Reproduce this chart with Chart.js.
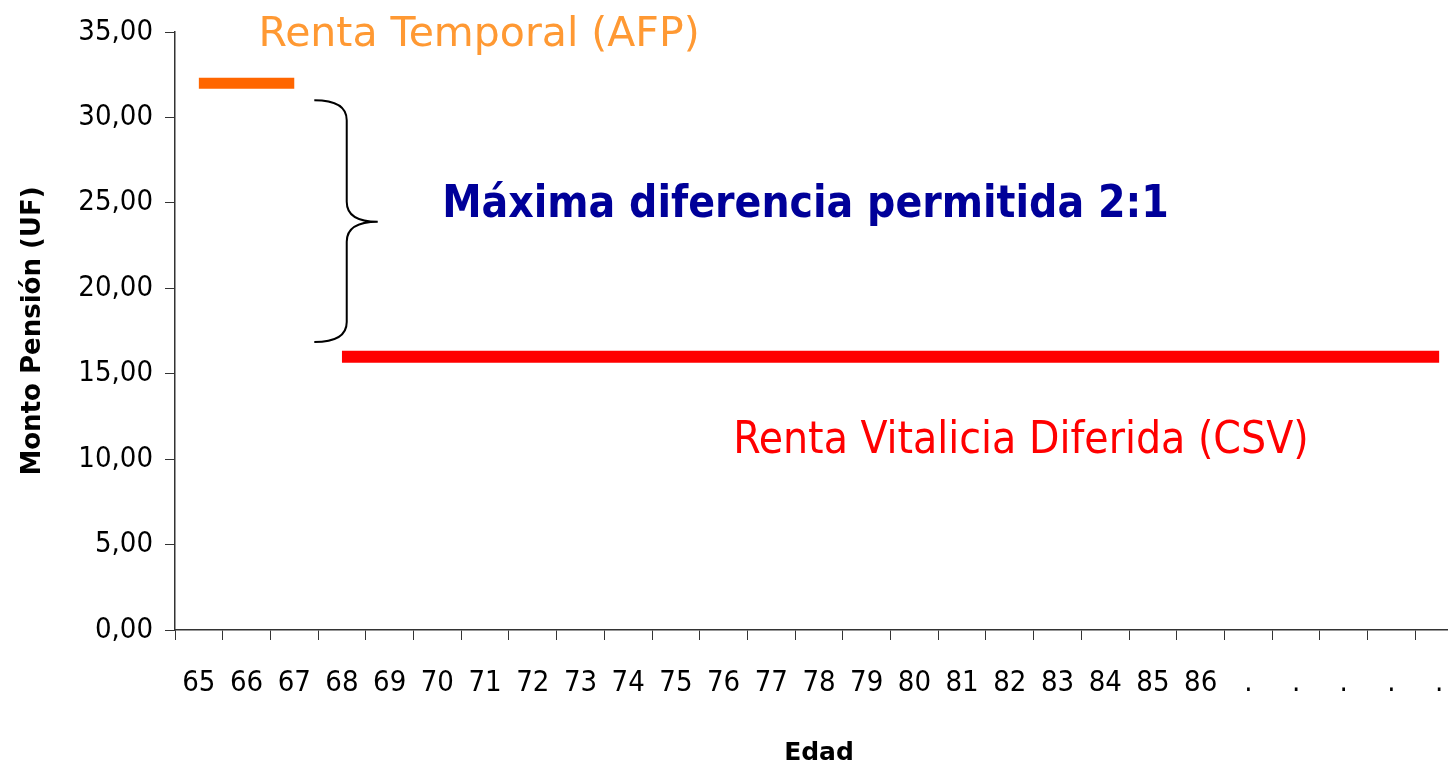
<!DOCTYPE html>
<html>
<head>
<meta charset="utf-8">
<script src="https://cdn.jsdelivr.net/npm/chart.js@4"></script>
<style>
  html, body { margin: 0; padding: 0; background: #fff; overflow: hidden; }
  #wrap { width: 1470px; height: 768px; }
</style>
</head>
<body>
<div id="wrap"><canvas id="myChart"></canvas></div>
<script>
/* DATA */
const edades = ['65', '66', '67', '68', '69', '70', '71', '72', '73', '74', '75', '76', '77', '78', '79', '80', '81', '82', '83', '84', '85', '86', '.', '.', '.', '.', '.'];
const rentaTemporal = [32, 32, 32, null, null, null, null, null, null, null, null, null, null, null, null, null, null, null, null, null, null, null, null, null, null, null, null];
const rentaVitalicia = [null, null, null, 16, 16, 16, 16, 16, 16, 16, 16, 16, 16, 16, 16, 16, 16, 16, 16, 16, 16, 16, 16, 16, 16, 16, 16];
const yTicks = [0, 5, 10, 15, 20, 25, 30, 35];

const FONT = '"DejaVu Sans Condensed", "DejaVu Sans", sans-serif';
const WIDE = '"DejaVu Sans", sans-serif';

/* ANNOTATIONS (texts + brace) */
const notes = {
  id: 'notes',
  afterDraw(chart) {
    const c = chart.ctx;
    const x = chart.scales.x;
    const y = chart.scales.y;
    c.save();
    c.textBaseline = 'alphabetic';
    c.textAlign = 'left';

    c.font = 'normal 41px ' + WIDE;
    c.fillStyle = '#FF9933';
    c.fillText('Renta Temporal (AFP)', x.getPixelForValue(1.25), y.getPixelForValue(34.17));

    c.font = 'bold 44px ' + FONT;
    c.fillStyle = '#000099';
    c.fillText('Máxima diferencia permitida 2:1', x.getPixelForValue(5.1), y.getPixelForValue(24.17));

    c.font = 'normal 44px ' + FONT;
    c.fillStyle = '#FF0000';
    c.fillText('Renta Vitalicia Diferida (CSV)', x.getPixelForValue(11.2), y.getPixelForValue(10.36));

    // brace
    const x0 = x.getPixelForValue(2.42);
    const x1 = x.getPixelForValue(3.1);
    const x2 = x.getPixelForValue(3.75);
    const yt = y.getPixelForValue(31.0);
    const ym = y.getPixelForValue(23.9);
    const yb = y.getPixelForValue(16.85);
    const r = 20;
    c.strokeStyle = '#000';
    c.lineWidth = 2;
    c.beginPath();
    c.moveTo(x0, yt);
    c.quadraticCurveTo(x1, yt, x1, yt + r);
    c.lineTo(x1, ym - r);
    c.quadraticCurveTo(x1, ym, x2, ym);
    c.quadraticCurveTo(x1, ym, x1, ym + r);
    c.lineTo(x1, yb - r);
    c.quadraticCurveTo(x1, yb, x0, yb);
    c.stroke();
    c.restore();
  }
};

const ctx = document.getElementById('myChart').getContext('2d');
// eslint-disable-next-line no-undef
const chart = new Chart(ctx, {
  type: 'line',
  data: {
    labels: edades,
    datasets: [{
      label: 'Renta Temporal (AFP)',
      data: rentaTemporal,
      borderColor: '#FF6600',
      borderWidth: 11,
      borderCapStyle: 'butt',
      pointRadius: 0,
      spanGaps: false,
    },
    {
      label: 'Renta Vitalicia Diferida (CSV)',
      data: rentaVitalicia,
      borderColor: '#FF0000',
      borderWidth: 12,
      borderCapStyle: 'butt',
      pointRadius: 0,
      spanGaps: false,
    }]
  },
  options: {
    responsive: true,
    maintainAspectRatio: false,
    animation: false,
    layout: { padding: { top: 32, right: 7, left: 0, bottom: 0 } },
    plugins: { legend: { display: false }, tooltip: { enabled: false } },
    scales: {
      x: {
        offset: true,
        grid: { display: true, drawOnChartArea: false, tickLength: 10, color: '#333', tickColor: '#333', offset: true },
        border: { color: '#333', width: 1.5 },
        ticks: { color: '#000', font: { family: FONT, size: 29 }, padding: 26, maxRotation: 0, autoSkip: false },
        title: { display: true, text: 'Edad', color: '#000', font: { family: WIDE, size: 25, weight: 'bold' }, padding: { top: 14, bottom: 0 } },
        afterFit: function(s) { s.height = 138; }
      },
      y: {
        min: 0,
        max: 35,
        afterBuildTicks: function(s) { s.ticks = yTicks.map(v => ({ value: v })); },
        grid: { display: true, drawOnChartArea: false, tickLength: 10, color: '#333', tickColor: '#333' },
        border: { color: '#333', width: 1.5 },
        ticks: {
          color: '#000',
          font: { family: FONT, size: 29 },
          padding: 12,
          callback: function(v) { return v.toFixed(2).replace('.', ','); }
        },
        title: { display: true, text: 'Monto Pensión (UF)', color: '#000', font: { family: WIDE, size: 26, weight: 'bold' }, padding: { top: 18, bottom: 0 } },
        afterFit: function(s) { s.width = 175; }
      }
    }
  },
  plugins: [notes]
});

console.log(chart);
</script>
</body>
</html>
